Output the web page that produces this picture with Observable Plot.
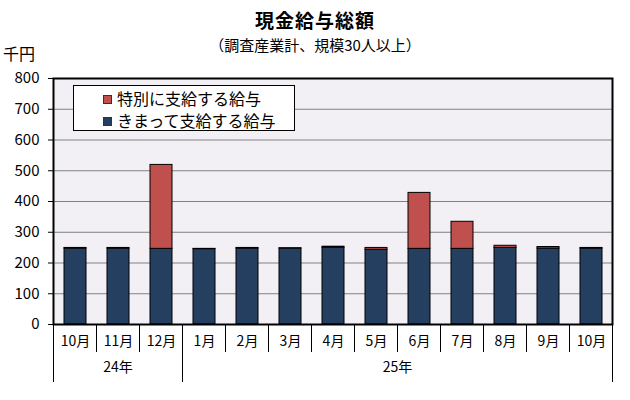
<!DOCTYPE html>
<html><head><meta charset="utf-8">
<script src="https://cdn.jsdelivr.net/npm/d3@7"></script>
<script src="https://cdn.jsdelivr.net/npm/@observablehq/plot@0.6"></script>
<style>
body{margin:0;background:#fff;font-family:"Noto Sans CJK JP",sans-serif;color:#000;}
#wrap{position:relative;width:630px;height:400px;overflow:hidden;}
#title{height:35px;box-sizing:border-box;padding-top:5px;line-height:30px;text-align:center;font-size:19px;font-weight:bold;letter-spacing:1px;}
#sub{height:20px;line-height:20px;text-align:center;font-size:15px;}
#legend{position:absolute;left:73px;top:85px;width:222px;height:46px;box-sizing:border-box;border:1px solid #000;background:#fff;font-size:16px;padding-top:1px;}
.item{height:22px;line-height:22px;padding-left:29px;white-space:nowrap;}
.sw{display:inline-block;width:7px;height:7px;border:1px solid #333;margin-right:5px;vertical-align:middle;position:relative;top:-1px;}
svg text{font-family:"Noto Sans CJK JP",sans-serif;}
</style>
</head><body>
<div id="wrap">
  <div id="title">現金給与総額</div>
  <div id="sub">（調査産業計、規模30人以上）</div>
  <div id="chart"></div>
  <div id="legend"></div>
</div>
<script>
const months = ["10月","11月","12月","1月","2月","3月","4月","5月","6月","7月","8月","9月","10月"];
const years = ["24年","24年","24年","25年","25年","25年","25年","25年","25年","25年","25年","25年","25年"];
const fixedPay = [247,247,246,245,247,247,250,243,246,246,249,247,247];
const specialPay = [2,2,273,1,2,1,3,6,182,88,7,5,2];
const seriesNames = ["きまって支給する給与","特別に支給する給与"];
const seriesColors = ["#243F60","#C0504D"];
const legendOrder = ["特別に支給する給与","きまって支給する給与"];
const yTicks = [0,100,200,300,400,500,600,700,800];
const unitLabel = "千円";

const idx = d3.range(months.length);
const rows = [];
idx.forEach(i => {
  rows.push({i, series: seriesNames[0], value: fixedPay[i]});
  rows.push({i, series: seriesNames[1], value: specialPay[i]});
});

const W = 630, H = 345, mT = 23, mB = 76, mL = 53, mR = 18;
const plot = Plot.plot({
  width: W, height: H, marginTop: mT, marginBottom: mB, marginLeft: mL, marginRight: mR,
  style: {fontFamily: '"Noto Sans CJK JP", sans-serif', fontSize: "14px", color: "#000", background: "transparent", overflow: "visible"},
  x: {domain: idx, paddingInner: 0.49, paddingOuter: 0.245, axis: null},
  y: {domain: [0, 800], axis: null},
  color: {domain: seriesNames, range: seriesColors},
  marks: [
    Plot.frame({fill: "#F2F0F5", stroke: null}),
    Plot.gridY(yTicks, {stroke: "#808080", strokeOpacity: 1, strokeWidth: 1}),
    Plot.barY(rows, {x: "i", y: "value", fill: "series", stroke: "#000", strokeWidth: 1, order: seriesNames}),
    Plot.axisY(yTicks, {tickSize: 5, tickPadding: 9, fontSize: 15, label: null, stroke: "#000"}),
    Plot.axisX(idx, {tickSize: 0, tickPadding: 12, tickFormat: i => months[i], fontSize: 14, label: null}),
    Plot.frame({stroke: "#000", strokeWidth: 2})
  ]
});
document.getElementById("chart").appendChild(plot);

// category separators and year row, from the x scale
const xs = plot.scale("x");
const n = months.length;
const step = (xs.range[1] - xs.range[0]) / n;
const center = i => xs.apply(i) + xs.bandwidth / 2;
const bound = i => (i < n ? center(i) - step / 2 : center(n - 1) + step / 2);
const yBase = H - mB;
const svg = d3.select(plot);
const g = svg.append("g").attr("stroke", "#000").attr("stroke-width", 1);
const yearStarts = idx.filter(i => i === 0 || years[i] !== years[i - 1]);
for (let i = 0; i <= n; i++) {
  const isYear = i === n || yearStarts.includes(i);
  g.append("line")
    .attr("x1", bound(i)).attr("x2", bound(i))
    .attr("y1", yBase).attr("y2", yBase + (isYear ? 58 : 28));
}
yearStarts.forEach((s, k) => {
  const e = k + 1 < yearStarts.length ? yearStarts[k + 1] : n;
  svg.append("text")
    .attr("x", (bound(s) + bound(e)) / 2)
    .attr("y", yBase + 44)
    .attr("text-anchor", "middle")
    .attr("dominant-baseline", "middle")
    .attr("font-size", 14)
    .text(years[s]);
});
svg.append("text")
  .attr("x", 19).attr("y", 1)
  .attr("dominant-baseline", "middle")
  .attr("font-size", 16)
  .text(unitLabel);

// legend
const leg = d3.select("#legend");
legendOrder.forEach(name => {
  const it = leg.append("div").attr("class", "item");
  it.append("span").attr("class", "sw").style("background", seriesColors[seriesNames.indexOf(name)]);
  it.append("span").text(name);
});
</script>
</body></html>
